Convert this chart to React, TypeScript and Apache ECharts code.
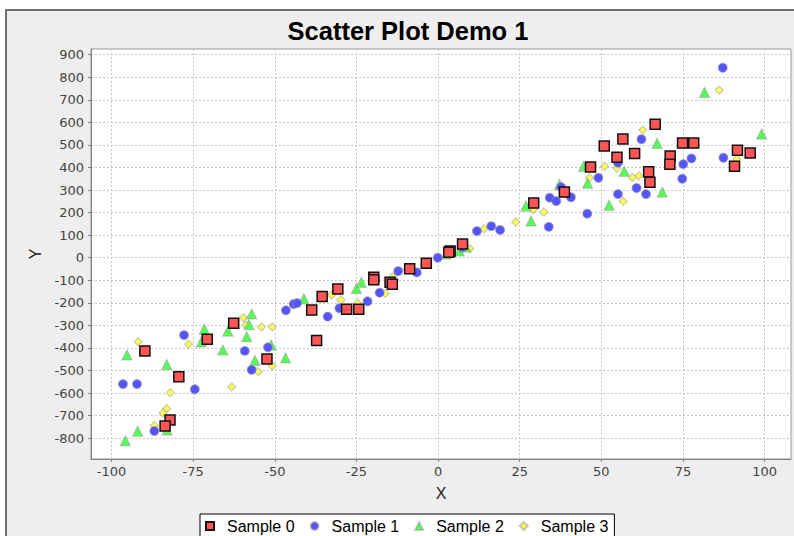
import React, { useEffect, useRef } from 'react';
import * as echarts from 'echarts';

const xTicks = [-100, -75, -50, -25, 0, 25, 50, 75, 100];
const yTicks = [-800, -700, -600, -500, -400, -300, -200, -100, 0, 100, 200, 300, 400, 500, 600, 700, 800, 900];
const seriesNames = ['Sample 0', 'Sample 1', 'Sample 2', 'Sample 3'];

const sample0 = [
  [-89.8, -413], [-79.4, -528], [-82.1, -719], [-83.6, -746], [-70.7, -361], [-62.6, -290],
  [-52.4, -449], [-38.7, -232], [-37.2, -367], [-35.5, -172], [-30.7, -139], [-28, -228],
  [-24.3, -228], [-19.7, -86], [-19.7, -98], [-14.7, -109], [-14, -118], [-8.7, -49],
  [-3.6, -25], [3.7, 30], [3.3, 24], [7.5, 61], [29.3, 242], [38.7, 291], [46.7, 402],
  [50.9, 495], [54.8, 445], [56.6, 526], [60.2, 462], [64.5, 381], [64.9, 335], [66.5, 592],
  [71.1, 451], [71, 414], [74.9, 508], [78.3, 508], [91.7, 476], [90.8, 405], [95.6, 464],
];

const sample1 = [
  [-96.5, -560], [-92.2, -560], [-86.9, -768], [-77.8, -343], [-74.5, -583], [-59.2, -413],
  [-57.1, -497], [-52.1, -397], [-46.6, -233], [-44.2, -205], [-43.2, -201], [-33.8, -261],
  [-30.2, -224], [-21.6, -193], [-17.9, -155], [-12.2, -59], [-6.5, -65], [-0.1, 0],
  [7.4, 46], [11.9, 118], [16.3, 140], [19, 123], [33.9, 137], [34.2, 266], [36.2, 251],
  [37.7, 313], [40.7, 268], [45.7, 195], [49.1, 354], [55.1, 282], [55.1, 421], [60.8, 309],
  [62.3, 525], [63.7, 282], [74.8, 350], [75.1, 415], [77.6, 440], [87.2, 842], [87.4, 443],
];

const sample2 = [
  [-95.3, -431], [-95.8, -811], [-92, -769], [-83.1, -474], [-83, -763], [-71.6, -316],
  [-72.5, -373], [-65.9, -409], [-64.4, -325], [-57.1, -249], [-57.9, -297], [-58.6, -350],
  [-56.1, -455], [-51.1, -387], [-46.7, -444], [-41.1, -182], [-25, -136], [-23.5, -109],
  [2.5, 16], [6.5, 30], [8.5, 48], [26.9, 229], [28.5, 163], [37.2, 325], [44.6, 405],
  [45.8, 330], [52.4, 233], [57, 383], [67.1, 507], [68.7, 291], [81.6, 733], [99.1, 548],
];

const sample3 = [
  [-91.8, -372], [-76.4, -383], [-82, -598], [-83.1, -669], [-84.3, -687], [-86.9, -744],
  [-59.6, -265], [-58.8, -298], [-54.1, -307], [-50.8, -307], [-55.1, -505], [-50.8, -479],
  [-63.2, -573], [-32.6, -165], [-29.8, -187], [-24.6, -202], [-16.1, -158], [-13.9, -84],
  [-9.4, -51], [9.7, 40], [14.1, 128], [23.8, 158], [29.1, 214], [32.4, 202], [46.4, 354],
  [51, 405], [54.8, 396], [56.7, 250], [59.5, 356], [61.5, 363], [62.7, 566], [86.1, 743],
  [91.5, 437],
];

const FONT = 'DejaVu Sans';

export default function App() {
  const ref = useRef<HTMLDivElement>(null);
  useEffect(() => {
    if (!ref.current) return;
    const chart = echarts.init(ref.current, null, { renderer: 'svg' });
    const softBorder = 'rgba(150,150,150,0.5)';
    chart.setOption({
      animation: false,
      backgroundColor: '#ffffff',
      graphic: [
        {
          type: 'rect',
          z: -10,
          zlevel: 0,
          shape: { x: 6, y: 10, width: 900, height: 700 },
          style: { fill: '#eeeeee', stroke: '#444444', lineWidth: 1.5 },
          silent: true,
        },
      ],
      title: {
        text: 'Scatter Plot Demo 1',
        left: 403,
        textAlign: 'center',
        top: 13,
        textStyle: { fontFamily: 'Liberation Sans', fontWeight: 'bold', fontSize: 25.5, color: '#000' },
      },
      legend: {
        left: 200,
        top: 514,
        data: seriesNames,
        itemWidth: 8,
        itemHeight: 8,
        itemGap: 15,
        padding: [4, 6, 4, 5],
        borderColor: '#000',
        borderWidth: 1,
        backgroundColor: '#fff',
        borderRadius: 0,
        textStyle: { fontFamily: 'Liberation Sans', fontSize: 16, color: '#000', padding: [0, 0, 0, 8] },
      },
      grid: {
        left: 91,
        right: 3,
        top: 49,
        bottom: 77,
        show: true,
        backgroundColor: '#ffffff',
        borderColor: '#999999',
        borderWidth: 1,
      },
      xAxis: {
        type: 'value',
        min: -106.3,
        max: 108.1,
        name: 'X',
        nameLocation: 'middle',
        nameGap: 26,
        nameTextStyle: { fontFamily: 'Liberation Sans', fontSize: 16, color: '#222' },
        axisLine: { show: true, onZero: false, lineStyle: { color: '#808080' } },
        axisTick: { show: true, customValues: xTicks, length: 3, lineStyle: { color: '#808080' } },
        axisLabel: { customValues: xTicks, fontFamily: FONT, fontSize: 13, color: '#444', margin: 6 },
        splitLine: { show: true, lineStyle: { color: '#c8c8c8', type: [2, 2], width: 1 } },
      },
      yAxis: {
        type: 'value',
        min: -892,
        max: 925,
        name: 'Y',
        nameLocation: 'middle',
        nameGap: 48,
        nameRotate: 90,
        nameTextStyle: { fontFamily: 'Liberation Sans', fontSize: 16, color: '#222' },
        axisLine: { show: true, onZero: false, lineStyle: { color: '#808080' } },
        axisTick: { show: true, customValues: yTicks, length: 3, lineStyle: { color: '#808080' } },
        axisLabel: { customValues: yTicks, fontFamily: FONT, fontSize: 13, color: '#444', margin: 7 },
        splitLine: { show: true, lineStyle: { color: '#c8c8c8', type: [2, 2], width: 1 } },
      },
      series: [
        {
          name: seriesNames[3],
          type: 'scatter',
          symbol: 'diamond',
          symbolSize: 8,
          z: 2,
          data: sample3,
          itemStyle: { color: '#ffff55', borderColor: softBorder, borderWidth: 1.2, opacity: 1 },
        },
        {
          name: seriesNames[2],
          type: 'scatter',
          symbol: 'triangle',
          symbolSize: 10,
          z: 3,
          data: sample2,
          itemStyle: { color: '#55ff55', borderColor: softBorder, borderWidth: 1.2, opacity: 1 },
        },
        {
          name: seriesNames[1],
          type: 'scatter',
          symbol: 'circle',
          symbolSize: 9,
          z: 4,
          data: sample1,
          itemStyle: { color: '#5555ff', borderColor: softBorder, borderWidth: 1.2, opacity: 1 },
        },
        {
          name: seriesNames[0],
          type: 'scatter',
          symbol: 'rect',
          symbolSize: 10,
          z: 5,
          data: sample0,
          itemStyle: { color: '#ff5555', borderColor: '#111', borderWidth: 1.5, opacity: 1 },
        },
      ],
    });
    return () => chart.dispose();
  }, []);
  return (
    <div
      ref={ref}
      style={{ position: 'absolute', left: 0, top: 0, width: 794, height: 536 }}
    />
  );
}
